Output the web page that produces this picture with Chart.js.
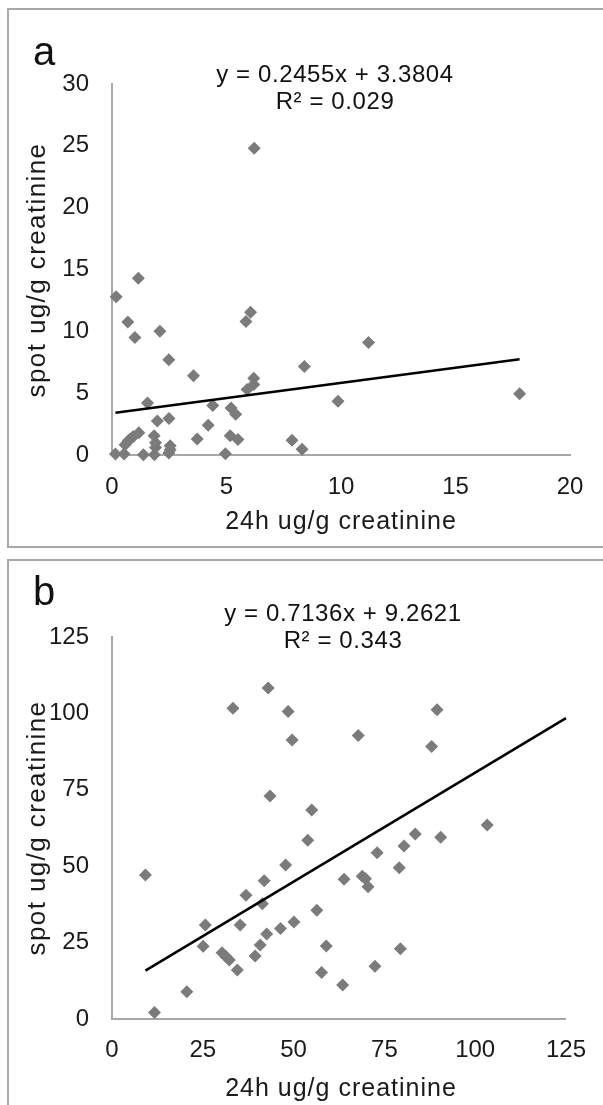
<!DOCTYPE html>
<html><head><meta charset="utf-8">
<script src="https://cdn.jsdelivr.net/npm/chart.js@4.4.1/dist/chart.umd.min.js"></script>
<style>
html,body{margin:0;padding:0;background:#fff;width:603px;height:1105px;overflow:hidden;position:relative;font-family:"Liberation Sans",Arial,sans-serif;}
.frame{position:absolute;border:2px solid #a8a8a8;box-sizing:border-box;}
canvas{position:absolute;left:0;}
.lbl{position:absolute;font-size:40px;line-height:40px;color:#111;}
.eq{position:absolute;font-size:24px;line-height:27px;text-align:center;width:400px;color:#111;letter-spacing:0.6px;}
.xt{position:absolute;width:400px;text-align:center;font-size:25px;line-height:30px;color:#1a1a1a;letter-spacing:1px;}
.yt{position:absolute;width:400px;text-align:center;font-size:26px;line-height:30px;color:#1a1a1a;letter-spacing:1.4px;transform:rotate(-90deg);transform-origin:50% 50%;}
</style></head><body>
<div class="frame" style="left:7px;top:8px;width:720px;height:540px"></div>
<div class="frame" style="left:7px;top:559px;width:720px;height:700px"></div>
<canvas id="ca" width="603" height="553" style="top:0px"></canvas>
<canvas id="cb" width="603" height="552" style="top:553px"></canvas>
<div class="lbl" style="left:33px;top:31px">a</div>
<div class="lbl" style="left:33px;top:571px">b</div>
<div class="eq" style="left:135px;top:60px">y = 0.2455x + 3.3804<br>R² = 0.029</div>
<div class="eq" style="left:143px;top:599px">y = 0.7136x + 9.2621<br>R² = 0.343</div>
<div id="xta" class="xt" style="left:141px;top:505px"></div>
<div id="xtb" class="xt" style="left:141px;top:1072px"></div>
<div id="yta" class="yt" style="left:-164px;top:255px"></div>
<div id="ytb" class="yt" style="left:-164px;top:813px"></div>
<script>
// ---- Panel a data (24h vs spot, ug/g creatinine) ----
const aX = [6.21,1.15,0.18,0.69,1.0,2.09,6.05,5.85,2.48,3.56,8.4,6.19,6.19,5.9,1.55,9.87,4.4,5.2,5.4,2.49,1.98,4.2,1.17,0.93,1.84,3.72,5.16,5.5,7.86,8.3,0.71,0.57,1.9,1.9,2.54,2.54,2.48,0.15,0.53,1.37,1.85,4.95,0.8,11.2,17.8];
const aY = [24.8,14.3,12.8,10.75,9.5,10.0,11.55,10.8,7.7,6.4,7.15,6.2,5.7,5.3,4.2,4.35,4.0,3.8,3.3,2.95,2.75,2.4,1.8,1.5,1.55,1.3,1.55,1.25,1.2,0.46,1.15,0.83,1.0,0.6,0.75,0.43,0.16,0.08,0.08,0.03,0.03,0.1,1.3,9.1,4.95];
const aTrend = [0.2455, 3.3804];      // slope, intercept
const aTrendRange = [0.15, 17.8];     // x start, x end
const aXTicks = [0,5,10,15,20];
const aYTicks = [0,5,10,15,20,25,30];

// ---- Panel b data ----
const bX = [43.0,33.3,48.5,49.6,43.5,55.0,53.9,47.8,41.9,9.2,36.9,41.4,56.4,25.7,35.3,50.1,46.4,42.6,40.8,25.1,59.0,30.3,31.4,32.3,39.4,34.5,57.7,63.5,20.6,11.7,63.9,89.5,67.8,88.0,103.3,83.5,90.5,80.4,73.0,79.1,68.9,69.8,70.5,79.4,72.4];
const bY = [108.3,101.7,100.6,91.3,73.0,68.4,58.5,50.4,45.2,47.1,40.5,37.7,35.6,30.8,30.8,31.7,29.6,27.8,24.2,23.8,23.9,21.7,20.4,19.3,20.6,16.0,15.2,11.1,8.9,2.1,45.7,101.2,92.8,89.2,63.5,60.5,59.5,56.6,54.4,49.5,46.7,45.9,43.3,23.0,17.3];
const bTrend = [0.7136, 9.2621];
const bTrendRange = [9.2, 125];
const bXTicks = [0,25,50,75,100,125];
const bYTicks = [0,25,50,75,100,125];

const xTitle = '24h ug/g creatinine';
const yTitle = 'spot ug/g creatinine';

['xta','xtb'].forEach(id=>document.getElementById(id).textContent = xTitle);
['yta','ytb'].forEach(id=>document.getElementById(id).textContent = yTitle);

const FONT = 'Liberation Sans';
const TXT = '#1a1a1a';
const AX = '#a8a8a8';
const MK = '#7b7b7b';

function build(id, xs, ys, trend, range, xt, yt, cfg) {
  const pts = xs.map((x,i)=>({x:x, y:ys[i]}));
  const line = range.map(x=>({x:x, y:trend[0]*x + trend[1]}));
  return new Chart(document.getElementById(id), {
    type: 'scatter',
    data: { datasets: [
      { data: pts, pointStyle:'rectRot', pointRadius:6.5, pointBackgroundColor:MK, pointBorderColor:MK, pointBorderWidth:0, clip:false, order:1 },
      { type:'line', data: line, borderColor:'#000', borderWidth:2.5, pointRadius:0, fill:false, clip:false, order:0 }
    ]},
    options: {
      responsive:false, animation:false, devicePixelRatio:1,
      layout:{ padding:{ left:0, right:603-cfg.right, top:cfg.top, bottom:0 } },
      plugins:{ legend:{display:false}, tooltip:{enabled:false} },
      scales:{
        x:{ type:'linear', min:xt[0], max:xt[xt.length-1],
            afterBuildTicks:s=>{ s.ticks = xt.map(v=>({value:v})); },
            afterFit:s=>{ s.height = cfg.xh; },
            grid:{display:false, drawTicks:false, tickLength:0},
            border:{display:true, color:AX, width:2},
            ticks:{ color:TXT, font:{family:FONT, size:24}, padding:cfg.tickPad, maxRotation:0, autoSkip:false },
            title:{ display:false } },
        y:{ type:'linear', min:yt[0], max:yt[yt.length-1],
            afterBuildTicks:s=>{ s.ticks = yt.map(v=>({value:v})); },
            afterFit:s=>{ s.width = 112; },
            grid:{display:false, drawTicks:false, tickLength:0},
            border:{display:true, color:AX, width:2},
            ticks:{ color:TXT, font:{family:FONT, size:24}, padding:23, autoSkip:false },
            title:{ display:false } }
      }
    }
  });
}

build('ca', aX, aY, aTrend, aTrendRange, aXTicks, aYTicks, {right:570, top:84, xh:553-455, tickPad:17.6});
build('cb', bX, bY, bTrend, bTrendRange, bXTicks, bYTicks, {right:571, top:84, xh:552-466, tickPad:17});
</script>
</body></html>
